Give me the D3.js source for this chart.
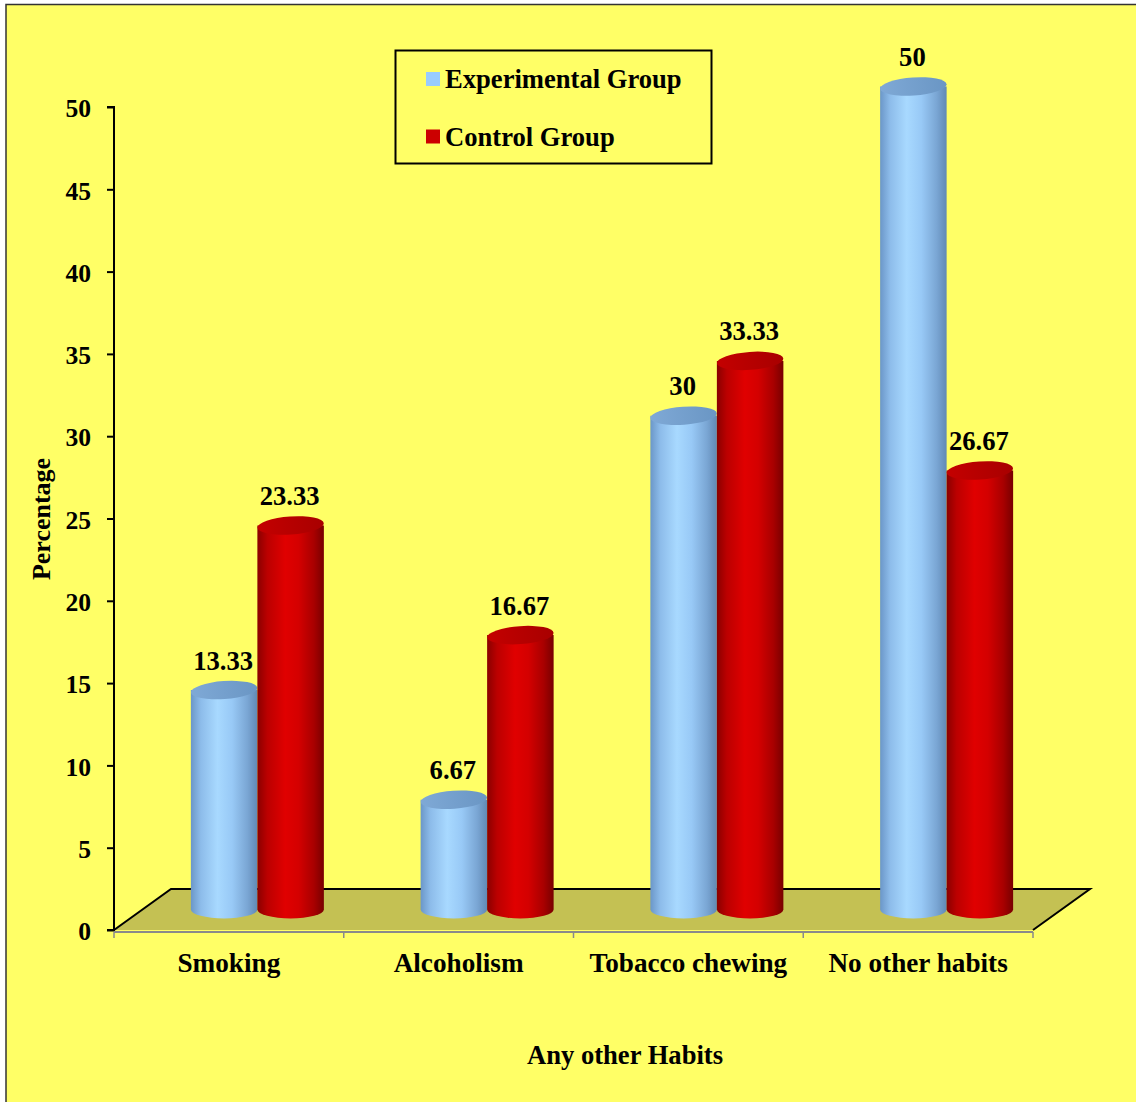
<!DOCTYPE html>
<html><head><meta charset="utf-8">
<script src="https://cdn.jsdelivr.net/npm/d3@7"></script>
<style>html,body{margin:0;padding:0;background:#fff;}svg{display:block;}</style>
</head><body>
<script>
const categories = ["Smoking", "Alcoholism", "Tobacco chewing", "No other habits"];
const seriesNames = ["Experimental Group", "Control Group"];
const experimental = [13.33, 6.67, 30, 50];
const control = [23.33, 16.67, 33.33, 26.67];
const valueLabels = [["13.33","6.67","30","50"],["23.33","16.67","33.33","26.67"]];
const yTicks = [0,5,10,15,20,25,30,35,40,45,50];
const xTitle = "Any other Habits";
const yTitle = "Percentage";

const W = 1136, H = 1102;
const FONT = "'Liberation Serif','Times New Roman',serif";
const FS = 26.6;
const svg = d3.select("body").append("svg").attr("width", W).attr("height", H);

// background with frame
svg.append("rect").attr("x",0).attr("y",0).attr("width",W).attr("height",H).attr("fill","#fff");
svg.append("rect").attr("x",6).attr("y",4.5).attr("width",W+10).attr("height",H+10)
  .attr("fill","#ffff66").attr("stroke","#333").attr("stroke-width",1.5);

const x0 = 114, x1 = 1033, yBase = 930;
const depthX = 57, depthY = -41;
const y = d3.scaleLinear().domain([0,50]).range([yBase,107]);
const x = d3.scaleBand().domain(categories).range([x0,x1]).padding(0);
const inner = d3.scaleBand().domain(seriesNames).range([0, 133]).padding(0);

const defs = svg.append("defs");
function grad(id, stops){
  const g = defs.append("linearGradient").attr("id",id).attr("x1","0%").attr("x2","100%").attr("y1","0%").attr("y2","0%");
  stops.forEach(s=>g.append("stop").attr("offset",s[0]).attr("stop-color",s[1]));
}
grad("gBlue", [["0%","#6b97c8"],["15%","#8dbcea"],["40%","#a8d9ff"],["62%","#98c9f6"],["85%","#7aa6d4"],["100%","#6189b4"]]);
grad("gRed", [["0%","#8a0000"],["15%","#bb0000"],["42%","#e00000"],["62%","#d40000"],["85%","#a80000"],["100%","#780000"]]);
grad("gBlueTop", [["0%","#7fa9d6"],["100%","#6a96c4"]]);
grad("gRedTop", [["0%","#c40000"],["100%","#a80000"]]);
const fills = ["url(#gBlue)","url(#gRed)"];
const topFills = ["url(#gBlueTop)","url(#gRedTop)"];
const legendColors = ["#99ccff","#cc0000"];

// floor
const floor = svg.append("g");
floor.append("path")
  .attr("d", `M${x0},${yBase} L${x0+depthX},${yBase+depthY} L${x1+depthX},${yBase+depthY} L${x1},${yBase} Z`)
  .attr("fill","#c4c153");
floor.append("path")
  .attr("d", `M${x0},${yBase} L${x0+depthX},${yBase+depthY} L${x1+depthX},${yBase+depthY} L${x1},${yBase}`)
  .attr("fill","none").attr("stroke","#000").attr("stroke-width",2);

// x axis (front edge, gray)
const xAxis = svg.append("g").attr("transform",`translate(0,${yBase+2})`);
xAxis.append("line").attr("x1",x0).attr("x2",x1).attr("y1",0).attr("y2",0).attr("stroke","#8a8a8a").attr("stroke-width",2);
const xTickPos = categories.map(c=>x(c)).concat([x1]);
xAxis.selectAll("line.t").data(xTickPos).join("line").attr("class","t")
  .attr("x1",d=>d).attr("x2",d=>d).attr("y1",0).attr("y2",6).attr("stroke","#8a8a8a").attr("stroke-width",1.5);
xAxis.selectAll("text").data(categories).join("text")
  .attr("x",d=>x(d)+x.bandwidth()/2).attr("y",40)
  .attr("text-anchor","middle").attr("font-family",FONT).attr("font-weight","bold").attr("font-size",FS+0.6)
  .text(d=>d);

// y axis
const yAxis = svg.append("g").attr("transform",`translate(${x0},0)`)
  .call(d3.axisLeft(y).tickValues(yTicks).tickSize(7).tickPadding(16).tickFormat(d3.format("d")));
yAxis.select(".domain").attr("stroke","#000").attr("stroke-width",2).attr("d",`M-7,${y(50)}H0V${yBase}H-7`);
yAxis.selectAll(".tick line").attr("stroke","#000").attr("stroke-width",2);
yAxis.selectAll(".tick text").attr("font-family",FONT).attr("font-weight","bold").attr("font-size",25.6).attr("fill","#000").attr("dy","0.38em");

// cylinders
const bw = inner.bandwidth();
const rx = bw/2, ry = 9;
const data = [];
categories.forEach((c,i)=>{
  [experimental[i], control[i]].forEach((v,s)=>{
    data.push({cat:c, s, v, label:valueLabels[s][i]});
  });
});
const bars = svg.append("g");
const labels = svg.append("g");
const tilt = -4;
data.forEach(d=>{
  const cx = x(d.cat) + x.bandwidth()/2 - 66.5 + inner(seriesNames[d.s]) + bw/2 + depthX/2;
  const yb = y(0) + depthY/2;
  const yt = y(d.v) + depthY/2;
  const g = bars.append("g");
  g.append("path")
    .attr("d", `M${cx-rx},${yt} L${cx-rx},${yb} A${rx},${ry} 0 0 0 ${cx+rx},${yb} L${cx+rx},${yt} Z`)
    .attr("fill", fills[d.s]);
  g.append("ellipse").attr("cx",cx).attr("cy",yt).attr("rx",rx).attr("ry",ry)
    .attr("transform",`rotate(${tilt},${cx},${yt})`)
    .attr("fill", topFills[d.s]);
  labels.append("text").attr("x",cx-1).attr("y",y(d.v)-41)
    .attr("text-anchor","middle").attr("font-family",FONT).attr("font-weight","bold").attr("font-size",FS)
    .text(d.label);
});

// axis titles
svg.append("text").attr("x",625).attr("y",1064).attr("text-anchor","middle")
  .attr("font-family",FONT).attr("font-weight","bold").attr("font-size",FS).text(xTitle);
svg.append("text").attr("transform","translate(50,519) rotate(-90)").attr("text-anchor","middle")
  .attr("font-family",FONT).attr("font-weight","bold").attr("font-size",26).text(yTitle);

// legend
const lg = svg.append("g");
lg.append("rect").attr("x",395.5).attr("y",50.5).attr("width",316).attr("height",113)
  .attr("fill","none").attr("stroke","#000").attr("stroke-width",2);
seriesNames.forEach((n,i)=>{
  const yy = 79 + i*57.5;
  lg.append("rect").attr("x",426).attr("y",yy-7).attr("width",14).attr("height",14).attr("fill",legendColors[i]);
  lg.append("text").attr("x",445).attr("y",yy+9).attr("font-family",FONT).attr("font-weight","bold").attr("font-size",FS).text(n);
});
</script>
</body></html>
